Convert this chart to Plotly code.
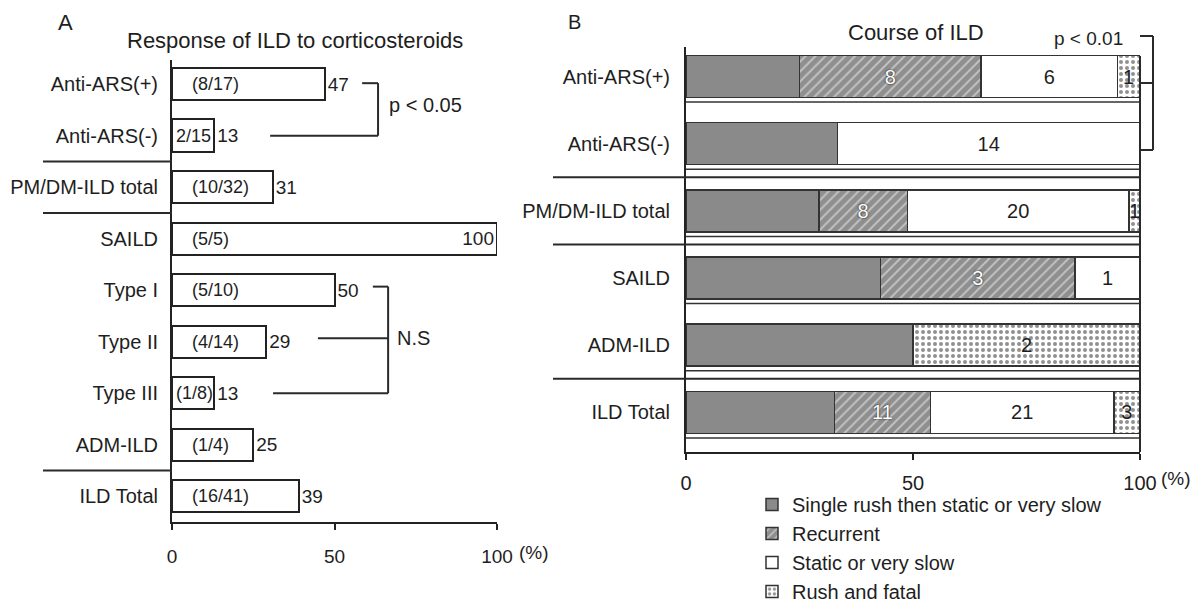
import plotly.graph_objects as go

W, H = 1193, 603
FONT = "Liberation Sans, Arial, sans-serif"
INK = "#1e1e1e"

# ---------------- Panel A data ----------------
cats_a = ["Anti-ARS(+)", "Anti-ARS(-)", "PM/DM-ILD total", "SAILD",
          "Type I", "Type II", "Type III", "ADM-ILD", "ILD Total"]
response_pct = [47, 13, 31, 100, 50, 29, 13, 25, 39]
fraction_labels = ["(8/17)", "2/15", "(10/32)", "(5/5)", "(5/10)",
                   "(4/14)", "(1/8)", "(1/4)", "(16/41)"]

# ---------------- Panel B data ----------------
cats_b = ["Anti-ARS(+)", "Anti-ARS(-)", "PM/DM-ILD total", "SAILD", "ADM-ILD", "ILD Total"]
course_names = ["Single rush then static or very slow", "Recurrent",
                "Static or very slow", "Rush and fatal"]
single_rush = [5, 7, 12, 3, 2, 17]
recurrent = [8, 0, 8, 3, 0, 11]
static_slow = [6, 14, 20, 1, 0, 21]
rush_fatal = [1, 0, 1, 0, 2, 3]

totals_b = [a + b + c + d for a, b, c, d in zip(single_rush, recurrent, static_slow, rush_fatal)]


def px_x(p):
    return p / W


def px_y(p):
    return 1 - p / H


fig = go.Figure()

# ---------- Panel A bars ----------
ya = list(range(len(cats_a)))
fig.add_trace(go.Bar(
    x=response_pct, y=ya, orientation="h", width=0.63,
    marker=dict(color="white", line=dict(color="#222", width=2)),
    text=[str(v) for v in response_pct],
    textposition=["inside" if v >= 100 else "outside" for v in response_pct],
    insidetextanchor="end",
    textfont=dict(size=19, color=INK, family=FONT),
    insidetextfont=dict(size=19, color=INK, family=FONT),
    outsidetextfont=dict(size=19, color=INK, family=FONT),
    constraintext="none", cliponaxis=False, textangle=0,
    showlegend=False, hoverinfo="skip",
    xaxis="x", yaxis="y",
))

# ---------- Panel B stacked bars ----------
yb = list(range(len(cats_b)))
series = [single_rush, recurrent, static_slow, rush_fatal]
styles = [
    dict(color="#8a8a8a"),
    dict(color="#8f8f8f", pattern=dict(shape="/", bgcolor="#8f8f8f", fgcolor="white",
                                       size=7, solidity=0.25)),
    dict(color="white"),
    dict(color="white", pattern=dict(shape=".", bgcolor="white", fgcolor="#222",
                                     size=6, solidity=0.35)),
]
text_colors = ["#8a8a8a", "white", INK, INK]
for k, (name, counts, st, tc) in enumerate(zip(course_names, series, styles, text_colors)):
    pct = [c / t * 100 for c, t in zip(counts, totals_b)]
    if k == 0:
        labels = ["" for c in counts]
    else:
        labels = [str(c) if c > 0 else "" for c in counts]
    marker = dict(st)
    marker["line"] = dict(color="#333", width=1.5)
    tf = dict(size=20, color=tc, family=FONT)
    if k == 1:
        tf["shadow"] = "0px 0px 2px #000"
    fig.add_trace(go.Bar(
        x=pct, y=yb, orientation="h", width=0.625, name=name,
        marker=marker, text=labels, textposition="inside",
        insidetextanchor="middle", textangle=0, constraintext="none",
        textfont=tf, legendgroup=name,
        xaxis="x2", yaxis="y2", hoverinfo="skip",
    ))

fig.update_layout(
    barmode="stack",
    width=W, height=H, autosize=False,
    margin=dict(l=0, r=0, t=0, b=0, autoexpand=False),
    paper_bgcolor="white", plot_bgcolor="white",
    font=dict(family=FONT, size=20, color=INK),
    xaxis=dict(domain=[px_x(172), px_x(497)], range=[0, 100], showgrid=False, zeroline=False,
               showline=True, linecolor="#222", linewidth=2,
               tickvals=[0, 50, 100], ticktext=["0", "50", "100"],
               ticks="outside", ticklen=6, tickwidth=2, tickcolor="#222",
               tickfont=dict(size=19), ticklabelstandoff=10, anchor="y", automargin=False),
    yaxis=dict(domain=[px_y(522), px_y(60)], range=[8.5, -0.47], showgrid=False, zeroline=False,
               showline=True, linecolor="#222", linewidth=2,
               tickvals=ya, ticktext=cats_a, ticks="", tickfont=dict(size=20),
               ticklabelstandoff=8, anchor="x", automargin=False),
    xaxis2=dict(domain=[px_x(686), px_x(1140)], range=[0, 100], showgrid=False, zeroline=False,
                showline=True, linecolor="#222", linewidth=2,
                tickvals=[0, 50, 100], ticktext=["0", "50", "100"],
                ticks="outside", ticklen=6, tickwidth=2, tickcolor="#222",
                tickfont=dict(size=20), ticklabelstandoff=6, anchor="y2", automargin=False),
    yaxis2=dict(domain=[px_y(452), px_y(47)], range=[5.59, -0.44], showgrid=False, zeroline=False,
                showline=True, linecolor="#222", linewidth=2,
                tickvals=yb, ticktext=cats_b, ticks="", tickfont=dict(size=20),
                ticklabelstandoff=10, anchor="x2", automargin=False),
    legend=dict(x=px_x(752), y=px_y(485), xanchor="left", yanchor="top",
                xref="container", yref="container",
                traceorder="grouped", tracegroupgap=0, bgcolor="rgba(0,0,0,0)",
                font=dict(size=20, color=INK, family=FONT), itemwidth=30),
    showlegend=True,
)

shapes = []
line_c = dict(color="#2a2a2a", width=2)
# Panel A separators (extend left of axis)
for yv in [1.5, 2.5, 7.5]:
    shapes.append(dict(type="line", xref="paper", yref="y", x0=px_x(43), x1=px_x(172),
                       y0=yv, y1=yv, line=line_c))
# p < 0.05 bracket
shapes += [
    dict(type="line", xref="x", yref="y", x0=58.5, x1=63.4, y0=-0.02, y1=-0.02, line=line_c),
    dict(type="line", xref="x", yref="y", x0=63.4, x1=63.4, y0=-0.02, y1=1.0, line=line_c),
    dict(type="line", xref="x", yref="y", x0=30.2, x1=63.4, y0=1.0, y1=1.0, line=line_c),
]
# N.S bracket
shapes += [
    dict(type="line", xref="x", yref="y", x0=61.8, x1=66.5, y0=3.93, y1=3.93, line=line_c),
    dict(type="line", xref="x", yref="y", x0=66.5, x1=66.5, y0=3.93, y1=6.0, line=line_c),
    dict(type="line", xref="x", yref="y", x0=44.9, x1=66.5, y0=4.93, y1=4.93, line=line_c),
    dict(type="line", xref="x", yref="y", x0=31.1, x1=66.5, y0=6.0, y1=6.0, line=line_c),
]
# Panel B separators
for yv in [1.5, 2.5, 4.5]:
    shapes.append(dict(type="line", xref="paper", yref="y2", x0=px_x(553), x1=px_x(1140),
                       y0=yv, y1=yv, line=line_c))
# Panel B thin lines under each bar
for i in yb:
    shapes.append(dict(type="line", xref="x2", yref="y2", x0=0, x1=100,
                       y0=i + 0.38, y1=i + 0.38, line=dict(color="#333", width=1.5)))
# Panel B right edge
shapes.append(dict(type="line", xref="paper", yref="paper", x0=px_x(1140), x1=px_x(1140),
                   y0=px_y(56), y1=px_y(452), line=line_c))
# p < 0.01 bracket
shapes += [
    dict(type="line", xref="paper", yref="paper", x0=px_x(1153), x1=px_x(1153),
         y0=px_y(36), y1=px_y(150), line=line_c),
    dict(type="line", xref="paper", yref="paper", x0=px_x(1140), x1=px_x(1153),
         y0=px_y(36), y1=px_y(36), line=line_c),
    dict(type="line", xref="paper", yref="paper", x0=px_x(1140), x1=px_x(1153),
         y0=px_y(83), y1=px_y(83), line=line_c),
    dict(type="line", xref="paper", yref="paper", x0=px_x(1140), x1=px_x(1153),
         y0=px_y(150), y1=px_y(150), line=line_c),
]
fig.update_layout(shapes=shapes)

ann = []


def pa(text, x, y, size=20, xanchor="center", **kw):
    ann.append(dict(text=text, x=px_x(x), y=px_y(y), xref="paper", yref="paper",
                    showarrow=False, xanchor=xanchor, yanchor="middle",
                    font=dict(size=size, color=INK, family=FONT), **kw))


pa("A", 65, 22, size=22)
pa("Response of ILD to corticosteroids", 295, 40, size=22)
pa("B", 574, 22, size=20)
pa("Course of ILD", 916, 33, size=22)
pa("p < 0.01", 1088, 38, size=19)
pa("(%)", 517, 552, size=19, xanchor="left")
pa("(%)", 1159, 478, size=19, xanchor="left")

# p / N.S texts in data coords of panel A
ann.append(dict(text="p < 0.05", x=66.2, y=0.4, xref="x", yref="y", showarrow=False,
                xanchor="left", font=dict(size=20, color=INK, family=FONT)))
ann.append(dict(text="N.S", x=68.6, y=4.92, xref="x", yref="y", showarrow=False,
                xanchor="left", font=dict(size=20, color=INK, family=FONT)))

# fraction labels inside panel A bars
for i, (lab, v) in enumerate(zip(fraction_labels, response_pct)):
    ann.append(dict(text=lab, x=(0.6 if v < 20 else 5.5), y=i, xref="x", yref="y",
                    showarrow=False, xanchor="left",
                    font=dict(size=18, color=INK, family=FONT)))

fig.update_layout(annotations=ann)
fig.write_html("out.html", config={"displayModeBar": False},
               post_script="document.body.style.margin='0';")
